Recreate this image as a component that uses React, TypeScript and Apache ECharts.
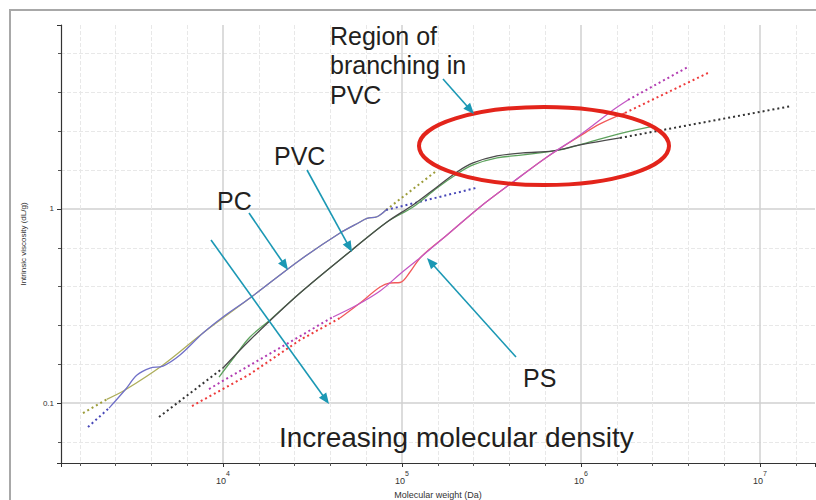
import React, { useEffect, useRef } from "react";
import * as echarts from "echarts";

// [molecular weight (Da), intrinsic viscosity (dL/g)]
const pcOliveSolid = [[2240, 0.1045], [2835, 0.1167], [4622, 0.157], [7731, 0.2295], [14150, 0.3477], [26930, 0.546], [45050, 0.752], [58270, 0.857], [63760, 0.895], [72510, 0.912], [81410, 0.988]];
const pcOliveFitLow = [[1651, 0.0888], [2240, 0.1045]];
const pcOliveFitHigh = [[81410, 0.988], [152900, 1.551]];

const pcBlueSolid = [[2308, 0.0942], [2835, 0.1167], [3308, 0.1394], [3910, 0.1515], [4622, 0.1551], [5752, 0.1768], [7731, 0.2295], [10000, 0.2776], [14150, 0.3477], [26930, 0.546], [45050, 0.752], [58270, 0.857], [63760, 0.895], [72510, 0.912], [81410, 0.988]];
const pcBlueFitLow = [[1761, 0.0752], [2308, 0.0942]];
const pcBlueFitHigh = [[81410, 0.988], [259000, 1.283]];

const pvcGreySolid = [[10000, 0.1515], [14150, 0.2113], [26930, 0.369], [52560, 0.615], [82470, 0.857], [115200, 1.049], [156900, 1.299], [202900, 1.551], [249300, 1.726], [339400, 1.876], [474300, 1.944], [697800, 1.991], [987200, 2.138], [1651000, 2.323]];
const pvcGreyFitLow = [[4390, 0.0847], [10000, 0.1515]];
const pvcGreyFitHigh = [[1651000, 2.323], [15100000, 3.396]];

const pvcGreenSolid = [[9499, 0.1361], [11670, 0.1747], [14150, 0.2189], [18310, 0.2678], [26930, 0.369], [52560, 0.615], [82470, 0.857], [115200, 1.024], [156900, 1.283], [202900, 1.515], [249300, 1.686], [339400, 1.832], [474300, 1.898], [763400, 2.014], [1123000, 2.215], [1716000, 2.465], [2429000, 2.647]];

const psMagentaSolid = [[41170, 0.2776], [56060, 0.3199], [75380, 0.3778], [97460, 0.4623], [127700, 0.566], [178400, 0.734], [272800, 1.024], [417100, 1.378], [645800, 1.854], [987200, 2.407], [1510000, 3.237], [1830000, 3.646]];
const psMagentaFitLow = [[8352, 0.1181], [41170, 0.2776]];
const psMagentaFitHigh = [[1830000, 3.646], [3962000, 5.395]];

const psRedSolid = [[45050, 0.2743], [58270, 0.3278], [75380, 0.3961], [85700, 0.4155], [97460, 0.418], [110800, 0.4734], [127700, 0.566], [178400, 0.734], [272800, 1.024], [417100, 1.378], [645800, 1.854], [987200, 2.378], [1277000, 2.743], [1761000, 3.126]];
const psRedFitLow = [[6711, 0.0965], [14150, 0.141], [26930, 0.2113], [45050, 0.2743]];
const psRedFitHigh = [[1761000, 3.126], [5123000, 5.024]];

// axis ranges (as powers of ten)
const xRangeExp = [3.095, 7.307];
const yRangeExp = [-1.309, 0.948];

const TEAL = "#1b98b4";
const FONT = '"Liberation Sans", Arial, sans-serif';

const toLog = (pts: number[][]) => pts.map(([m, e]) => [Math.log10(m), Math.log10(e)]);

function solid(name: string, pts: number[][], color: string, z = 3) {
  return {
    type: "line", name, data: toLog(pts), showSymbol: false, symbol: "none",
    smooth: 0.35, z, lineStyle: { color, width: 1.3 }, silent: true,
  };
}
function dotted(name: string, pts: number[][], color: string) {
  return {
    type: "line", name, data: toLog(pts), showSymbol: false, symbol: "none",
    smooth: false, z: 2, lineStyle: { color, width: 2, type: [2, 3] }, silent: true,
  };
}

function arrow(x1: number, y1: number, x2: number, y2: number) {
  const dx = x2 - x1, dy = y2 - y1;
  const len = Math.hypot(dx, dy);
  const ux = dx / len, uy = dy / len;
  const head = 11, half = 4.5;
  const bx = x2 - ux * head, by = y2 - uy * head;
  return [
    { type: "line", z: 50, silent: true, shape: { x1, y1, x2: bx + ux * 2, y2: by + uy * 2 }, style: { stroke: TEAL, lineWidth: 1.6 } },
    { type: "polygon", z: 50, silent: true, shape: { points: [[x2, y2], [bx - uy * half, by + ux * half], [bx + uy * half, by - ux * half]] }, style: { fill: TEAL } },
  ];
}

function label(text: string, x: number, y: number, size: number) {
  return {
    type: "text", z: 60, silent: true, x, y,
    style: { text, font: `${size}px ${FONT}`, fill: "#231f20", textAlign: "left", align: "left", textVerticalAlign: "middle", verticalAlign: "middle" },
  };
}

export default function App() {
  const ref = useRef<HTMLDivElement>(null);
  useEffect(() => {
    if (!ref.current) return;
    const chart = echarts.init(ref.current, null, { renderer: "svg" });
    const option: any = {
      animation: false,
      backgroundColor: "#ffffff",
      grid: { left: 61, right: 1, top: 25, bottom: 37, containLabel: false, outerBoundsMode: "none" },
      xAxis: {
        type: "value", min: xRangeExp[0], max: xRangeExp[1], splitNumber: 4,
        axisLine: { onZero: false, lineStyle: { color: "#333", width: 1.2 } },
        axisTick: { show: true, length: 4, lineStyle: { color: "#333" } },
        minorTick: { show: true, splitNumber: 5, length: 3, lineStyle: { color: "#555" } },
        splitLine: { show: true, showMinLine: false, showMaxLine: false, lineStyle: { color: "#d0d0d0", width: 1.5 } },
        minorSplitLine: { show: true, lineStyle: { color: "#e8e8e8", width: 1, type: "dashed" } },
        axisLabel: {
          showMinLabel: false, showMaxLabel: false, margin: 7,
          formatter: (v: number) => `{b|10}{s|${Math.round(v)}}`,
          rich: {
            b: { fontSize: 9, fontFamily: FONT, color: "#333", lineHeight: 15, verticalAlign: "bottom" },
            s: { fontSize: 7, fontFamily: FONT, color: "#333", lineHeight: 7, verticalAlign: "top" },
          },
        },
        name: "Molecular weight (Da)", nameLocation: "middle", nameGap: 27,
        nameTextStyle: { fontSize: 9, fontFamily: FONT, color: "#333" },
      },
      yAxis: {
        type: "value", min: yRangeExp[0], max: yRangeExp[1], splitNumber: 2,
        axisLine: { show: true, onZero: false, lineStyle: { color: "#333", width: 1.2 } },
        axisTick: { show: true, length: 4, lineStyle: { color: "#333" } },
        minorTick: { show: true, splitNumber: 5, length: 3, lineStyle: { color: "#555" } },
        splitLine: { show: true, showMinLine: false, showMaxLine: false, lineStyle: { color: "#d0d0d0", width: 1.5 } },
        minorSplitLine: { show: true, lineStyle: { color: "#e8e8e8", width: 1, type: "dashed" } },
        axisLabel: {
          showMinLabel: false, showMaxLabel: false, margin: 7, fontSize: 8, fontFamily: FONT, color: "#333",
          padding: [7, 0, 0, 0],
          formatter: (v: number) => String(+Math.pow(10, v).toPrecision(3)),
        },
        name: "Intrinsic viscosity (dL/g)", nameLocation: "middle", nameGap: 34,
        nameTextStyle: { fontSize: 8, fontFamily: FONT, color: "#333" },
      },
      series: [
        dotted("PC fit low A", pcOliveFitLow, "#9c9c3a"),
        dotted("PC fit high A", pcOliveFitHigh, "#9c9c3a"),
        dotted("PC fit low B", pcBlueFitLow, "#4848b8"),
        dotted("PC fit high B", pcBlueFitHigh, "#4848b8"),
        dotted("PVC fit low", pvcGreyFitLow, "#333333"),
        dotted("PVC fit high", pvcGreyFitHigh, "#333333"),
        dotted("PS fit low A", psMagentaFitLow, "#b23cb2"),
        dotted("PS fit high A", psMagentaFitHigh, "#b23cb2"),
        dotted("PS fit low B", psRedFitLow, "#ee3b3b"),
        dotted("PS fit high B", psRedFitHigh, "#ee3b3b"),
        solid("PC A", pcOliveSolid, "#aeae5c"),
        solid("PC B", pcBlueSolid, "#7070c8"),
        solid("PVC B", pvcGreenSolid, "#5ea35e"),
        solid("PVC A", pvcGreySolid, "#4a4a4a", 4),
        solid("PS B", psRedSolid, "#f25a5a"),
        solid("PS A", psMagentaSolid, "#c458c4", 4),
      ],
      graphic: [
        { type: "rect", z: 100, silent: true, shape: { x: 10, y: 10, width: 840, height: 520 }, style: { fill: "none", stroke: "#a8a8a8", lineWidth: 2 } },
        { type: "ellipse", z: 40, silent: true, shape: { cx: 544, cy: 146, rx: 125, ry: 39 }, style: { fill: "none", stroke: "#e3241b", lineWidth: 4 } },
        ...arrow(443, 79, 474, 114),
        ...arrow(307, 170, 352, 252),
        ...arrow(249, 213, 288, 270),
        ...arrow(516, 357, 427, 258),
        ...arrow(211, 240, 329, 404),
        label("Region of", 330, 35.5, 25),
        label("branching in", 330, 65, 25),
        label("PVC", 330, 95, 25),
        label("PVC", 274, 156, 25),
        label("PC", 217, 201, 25),
        label("PS", 523, 378, 25),
        label("Increasing molecular density", 279, 437, 28),
      ],
    };
    chart.setOption(option);
    return () => chart.dispose();
  }, []);
  return <div ref={ref} style={{ position: "absolute", left: 0, top: 0, width: 816, height: 500, background: "#fff" }} />;
}
